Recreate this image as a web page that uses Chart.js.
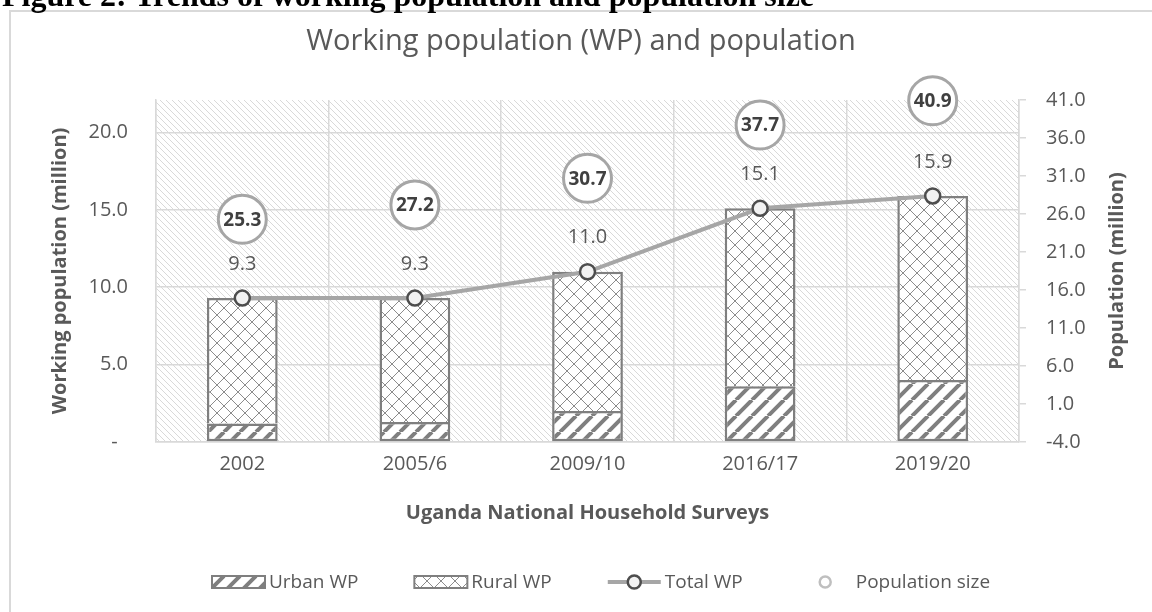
<!DOCTYPE html>
<html>
<head>
<meta charset="utf-8">
<script src="https://cdn.jsdelivr.net/npm/chart.js@4.4.1/dist/chart.umd.min.js"></script>
<style>
  html, body { margin: 0; padding: 0; background: #fff; overflow: hidden; }
  #wrap { position: relative; width: 1152px; height: 612px; overflow: hidden; }
  #frame { position: absolute; left: 9px; top: 10px; width: 1200px; height: 700px; border: 2px solid #d9d9d9; box-sizing: border-box; }
  #caption { position: absolute; left: 2px; top: -21px; font: bold 32px "Liberation Serif", serif; color: #000; line-height: 1; white-space: nowrap; }
  canvas { position: absolute; left: 0; top: 0; }
</style>
</head>
<body>
<div id="wrap">
  <div id="frame"></div>
  <canvas id="chart" width="1152" height="612"></canvas>
  <div id="caption">Figure 2: Trends of working population and population size</div>
</div>
<script>
const surveys = ['2002', '2005/6', '2009/10', '2016/17', '2019/20'];
const urbanWP = [1.2, 1.3, 2.0, 3.6, 4.0];
const ruralWP = [8.1, 8.0, 9.0, 11.5, 11.9];
const totalWP = [9.3, 9.3, 11.0, 15.1, 15.9];
const populationSize = [25.3, 27.2, 30.7, 37.7, 40.9];
const wpTicks = [0, 5, 10, 15, 20];
const popTicks = [-4, 1, 6, 11, 16, 21, 26, 31, 36, 41];

const FONT = '"Open Sans", sans-serif';
const TEXT = '#595959';
const GRID = '#d9d9d9';

const canvas = document.getElementById('chart');
const ctx0 = canvas.getContext('2d');

// diagonal line fills used for the plot area and the bars
function hatch(size, color, width, dirs) {
  const c = document.createElement('canvas');
  c.width = c.height = size;
  const g = c.getContext('2d');
  g.fillStyle = '#fff';
  g.fillRect(0, 0, size, size);
  g.strokeStyle = color;
  g.lineWidth = width;
  dirs.forEach(d => {
    g.beginPath();
    for (const o of [-size, 0, size]) {
      if (d === '/') { g.moveTo(o, size); g.lineTo(o + size, 0); }
      else { g.moveTo(o, 0); g.lineTo(o + size, size); }
    }
    g.stroke();
  });
  return ctx0.createPattern(c, 'repeat');
}

const plotHatch = hatch(6, '#d9d9d9', 1, ['\\']);
const urbanHatch = hatch(16, '#7f7f7f', 4, ['/']);
const ruralHatch = hatch(14, '#8c8c8c', 1, ['/', '\\']);

Chart.defaults.font.family = FONT;
Chart.defaults.color = TEXT;

const plotBackground = {
  id: 'plotBackground',
  beforeDraw(chart) {
    const { ctx, chartArea: a } = chart;
    ctx.save();
    ctx.fillStyle = plotHatch;
    ctx.fillRect(a.left, a.top, a.right - a.left, a.bottom - a.top);
    ctx.restore();
  }
};

const valueLabels = {
  id: 'valueLabels',
  afterDatasetsDraw(chart) {
    const ctx = chart.ctx;
    ctx.save();
    ctx.textAlign = 'center';
    ctx.textBaseline = 'middle';
    ctx.font = '20px ' + FONT;
    ctx.fillStyle = TEXT;
    chart.getDatasetMeta(2).data.forEach((pt, i) => {
      ctx.fillText(totalWP[i].toFixed(1), pt.x, pt.y - 34);
    });
    ctx.font = 'bold 19px ' + FONT;
    ctx.fillStyle = '#404040';
    chart.getDatasetMeta(3).data.forEach((pt, i) => {
      ctx.fillText(populationSize[i].toFixed(1), pt.x, pt.y + 1);
    });
    ctx.restore();
  }
};

// right axis title reads bottom to top, like the left one
const rightTitle = {
  id: 'rightTitle',
  afterDraw(chart) {
    const { ctx, chartArea: a } = chart;
    ctx.save();
    ctx.translate(1117, (a.top + a.bottom) / 2);
    ctx.rotate(-Math.PI / 2);
    ctx.font = 'bold 20px ' + FONT;
    ctx.fillStyle = TEXT;
    ctx.textAlign = 'center';
    ctx.textBaseline = 'middle';
    ctx.fillText('Population (million)', 0, 0);
    ctx.restore();
  }
};

const bottomLegend = {
  id: 'bottomLegend',
  afterDraw(chart) {
    const ctx = chart.ctx;
    const y = 582;
    const w = 53;
    let x = 212;
    ctx.save();
    ctx.font = '19px ' + FONT;
    ctx.textBaseline = 'middle';
    ctx.textAlign = 'left';
    chart.data.datasets.forEach(ds => {
      if (ds.type === 'bar') {
        ctx.fillStyle = ds.backgroundColor;
        ctx.fillRect(x, y - 6, w, 12);
        ctx.strokeStyle = ds.borderColor;
        ctx.lineWidth = 2;
        ctx.strokeRect(x, y - 6, w, 12);
      } else if (ds.showLine !== false) {
        ctx.strokeStyle = ds.borderColor;
        ctx.lineWidth = ds.borderWidth;
        ctx.beginPath();
        ctx.moveTo(x, y);
        ctx.lineTo(x + w, y);
        ctx.stroke();
        ctx.beginPath();
        ctx.arc(x + w / 2, y, 6.5, 0, Math.PI * 2);
        ctx.fillStyle = ds.pointBackgroundColor;
        ctx.fill();
        ctx.lineWidth = 2.5;
        ctx.strokeStyle = ds.pointBorderColor;
        ctx.stroke();
      } else {
        ctx.beginPath();
        ctx.arc(x + w / 2, y, 5.5, 0, Math.PI * 2);
        ctx.fillStyle = '#fff';
        ctx.fill();
        ctx.lineWidth = 2.5;
        ctx.strokeStyle = '#bfbfbf';
        ctx.stroke();
      }
      ctx.fillStyle = TEXT;
      ctx.fillText(ds.label, x + w + 4, y + 1);
      x += w + 4 + ctx.measureText(ds.label).width + 56;
    });
    ctx.restore();
  }
};

new Chart(canvas, {
  data: {
    labels: surveys,
    datasets: [
      {
        type: 'bar', label: 'Urban WP', data: urbanWP,
        backgroundColor: urbanHatch, borderColor: '#7f7f7f', borderWidth: 2.5, borderSkipped: false,
        barPercentage: 0.41, categoryPercentage: 1, order: 2, stack: 'wp'
      },
      {
        type: 'bar', label: 'Rural WP', data: ruralWP,
        backgroundColor: ruralHatch, borderColor: '#7f7f7f', borderWidth: 2.5, borderSkipped: 'bottom',
        barPercentage: 0.41, categoryPercentage: 1, order: 2, stack: 'wp'
      },
      {
        type: 'line', label: 'Total WP', data: totalWP, yAxisID: 'y', stack: 'total',
        borderColor: '#a6a6a6', borderWidth: 4, tension: 0,
        pointRadius: 7.5, pointBackgroundColor: '#f2f2f2', pointBorderColor: '#4d4d4d', pointBorderWidth: 2.5,
        order: 1
      },
      {
        type: 'line', label: 'Population size', data: populationSize, yAxisID: 'y1', showLine: false,
        pointRadius: 24, pointBackgroundColor: '#fff', pointBorderColor: '#a6a6a6', pointBorderWidth: 3,
        clip: false, order: 0
      }
    ]
  },
  options: {
    responsive: false,
    devicePixelRatio: 1,
    animation: false,
    events: [],
    layout: { padding: { left: 10, right: 0, top: 16, bottom: 87 } },
    plugins: {
      legend: { display: false },
      tooltip: { enabled: false },
      title: {
        display: true,
        text: 'Working population (WP) and population',
        color: TEXT,
        font: { size: 29, weight: 'normal' },
        padding: { top: 8, bottom: 41.2 }
      }
    },
    scales: {
      x: {
        stacked: true,
        grid: { offset: true, color: GRID, lineWidth: 1.5, drawTicks: false },
        border: { color: GRID, width: 1.5 },
        ticks: { padding: 10, font: { size: 20 }, color: TEXT },
        title: {
          display: true, text: 'Uganda National Household Surveys', color: TEXT,
          font: { size: 20, weight: 'bold' }, padding: { top: 0, bottom: 0 }
        },
        afterFit(scale) { scale.height = 83; }
      },
      y: {
        stacked: true, min: 0, max: 22.1,
        afterBuildTicks(scale) { scale.ticks = wpTicks.map(v => ({ value: v })); },
        grid: { color: GRID, lineWidth: 1.5, drawTicks: false },
        border: { display: true, color: GRID, width: 1.5 },
        ticks: {
          padding: 28, font: { size: 20 }, color: TEXT,
          callback: v => v === 0 ? '-  ' : v.toFixed(1)
        },
        title: {
          display: true, text: 'Working population (million)', color: TEXT,
          font: { size: 20, weight: 'bold' }, padding: { top: 38, bottom: 0 }
        },
        afterFit(scale) { scale.width = 146; }
      },
      y1: {
        position: 'right', min: -4, max: 41,
        afterBuildTicks(scale) { scale.ticks = popTicks.map(v => ({ value: v })); },
        grid: { drawOnChartArea: false, color: GRID, lineWidth: 1.5, tickLength: 7 },
        border: { color: GRID, width: 1.5 },
        ticks: { padding: 20, font: { size: 20 }, color: TEXT, callback: v => v.toFixed(1) },
        afterFit(scale) { scale.width = 133; }
      }
    }
  },
  plugins: [plotBackground, valueLabels, rightTitle, bottomLegend]
});
</script>
</body>
</html>
